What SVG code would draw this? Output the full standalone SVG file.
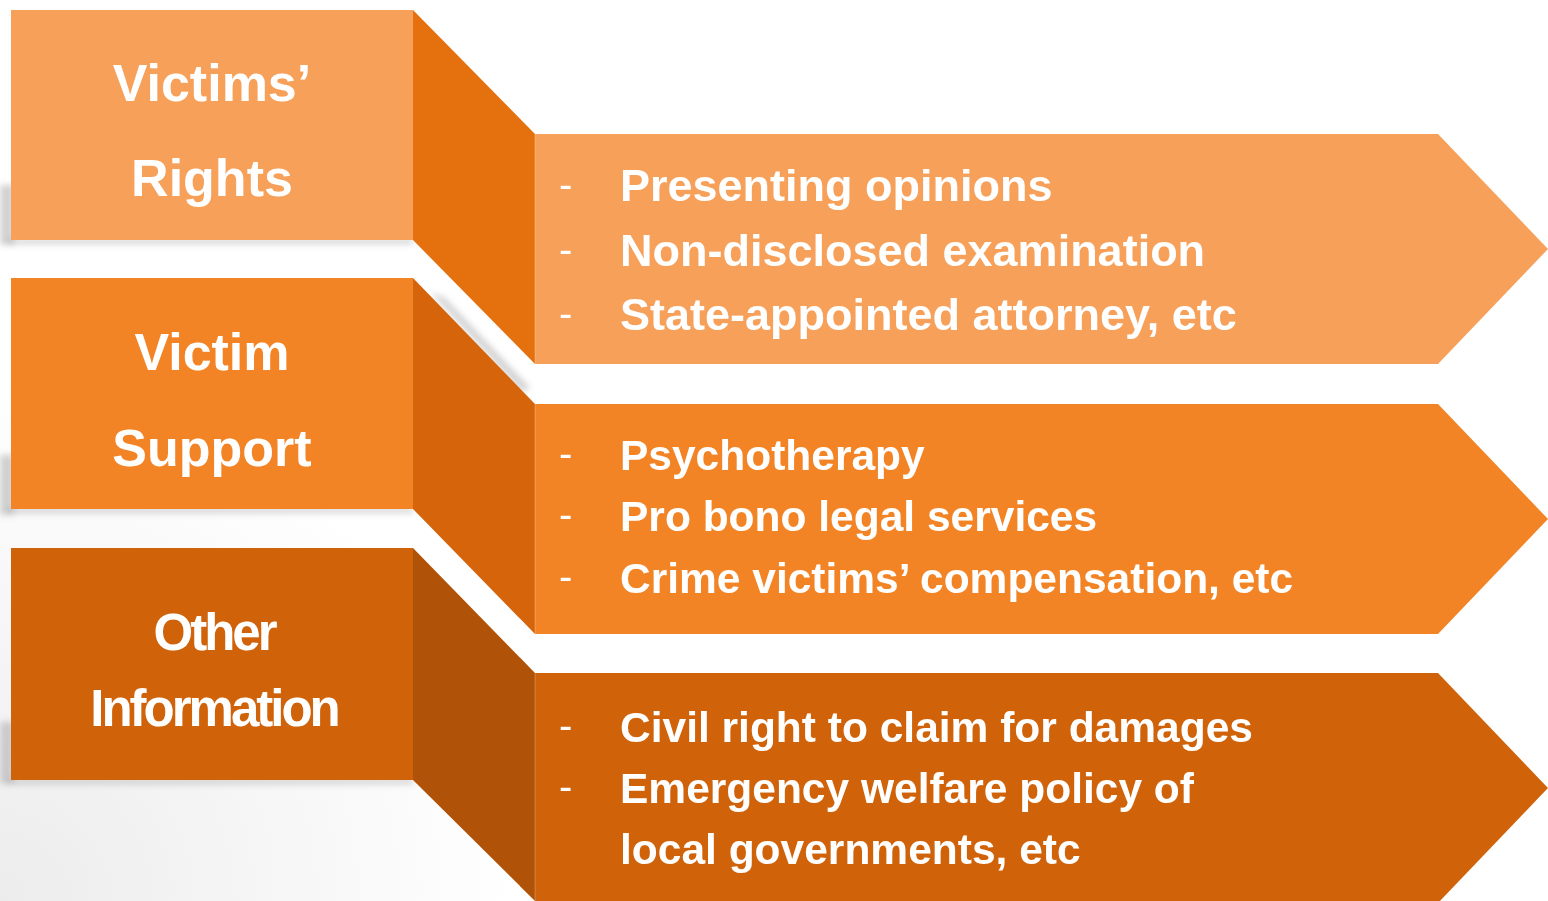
<svg xmlns="http://www.w3.org/2000/svg" width="1548" height="901" viewBox="0 0 1548 901">
<defs>
<style>
.lbl{font-family:"Liberation Sans",Arial,sans-serif;font-weight:bold;fill:#ffffff;text-anchor:middle;font-size:52px}
.oth{font-family:"Liberation Sans",Arial,sans-serif;font-weight:bold;fill:#ffffff;text-anchor:middle;font-size:51px;letter-spacing:-3px}
.item{font-family:"Liberation Sans",Arial,sans-serif;font-weight:bold;fill:#ffffff}
.dash{font-family:"Liberation Sans",Arial,sans-serif;font-weight:normal;fill:#ffffff;font-size:40px}
.c1{fill:#F6A05A}.f1{fill:#E4700E}
.c2{fill:#F38426}.f2{fill:#D5640A}
.c3{fill:#D0620A}.f3{fill:#B05207}
.sh{fill:#9a9a9a;opacity:0.45}
.edge{stroke:#ffffff;stroke-opacity:0.25;stroke-width:1}
</style>
<filter id="blur" x="-50%" y="-50%" width="200%" height="200%"><feGaussianBlur stdDeviation="3"/></filter>
<radialGradient id="bg" cx="0" cy="901" r="520" gradientUnits="userSpaceOnUse">
<stop offset="0" stop-color="#ececec"/>
<stop offset="1" stop-color="#ffffff"/>
</radialGradient>
</defs>
<rect x="0" y="0" width="1548" height="901" fill="url(#bg)"/>
<g id="shadows" filter="url(#blur)">
<rect class="sh" x="0" y="185" width="14" height="60"/>
<rect class="sh" x="8" y="239" width="405" height="5"/>
<rect class="sh" x="0" y="455" width="14" height="60"/>
<rect class="sh" x="8" y="508" width="405" height="5"/>
<rect class="sh" x="0" y="722" width="14" height="62"/>
<rect class="sh" x="8" y="779" width="405" height="5"/>
<polygon class="sh" points="430,292 445,298 530,388 522,392" opacity="0.6"/>
</g>
<g id="node-victims-rights">
<rect class="c1" x="11" y="10" width="402" height="230"/>
<polygon class="f1" points="413,10 535,134 535,364 413,240"/>
<polygon class="c1" points="535,134 1438,134 1548,249 1438,364 535,364"/>
<line class="edge" x1="535" y1="134" x2="535" y2="364"/>
<text class="lbl" x="212" y="101">Victims’</text>
<text class="lbl" x="212" y="196">Rights</text>
<g class="item" font-size="45">
<text x="620" y="201">Presenting opinions</text>
<text x="620" y="266">Non-disclosed examination</text>
<text x="620" y="330">State-appointed attorney, etc</text>
</g>
<text class="dash" x="559" y="198">-</text>
<text class="dash" x="559" y="263">-</text>
<text class="dash" x="559" y="327">-</text>
</g>
<g id="node-victim-support">
<rect class="c2" x="11" y="278" width="402" height="231"/>
<polygon class="f2" points="413,278 535,404 535,634 413,509"/>
<polygon class="c2" points="535,404 1438,404 1548,519 1438,634 535,634"/>
<line class="edge" x1="535" y1="404" x2="535" y2="634"/>
<text class="lbl" x="212" y="370">Victim</text>
<text class="lbl" x="212" y="466">Support</text>
<g class="item" font-size="42.5">
<text x="620" y="470">Psychotherapy</text>
<text x="620" y="531">Pro bono legal services</text>
<text x="620" y="593">Crime victims’ compensation, etc</text>
</g>
<text class="dash" x="559" y="467">-</text>
<text class="dash" x="559" y="528">-</text>
<text class="dash" x="559" y="590">-</text>
</g>
<g id="node-other-information">
<rect class="c3" x="11" y="548" width="402" height="232"/>
<polygon class="f3" points="413,548 535,673 535,901 413,780"/>
<polygon class="c3" points="535,673 1438,673 1548,788 1438,903 535,903"/>
<line class="edge" x1="535" y1="673" x2="535" y2="901"/>
<text class="oth" x="214" y="650">Other</text>
<text class="oth" x="214" y="726">Information</text>
<g class="item" font-size="42.5">
<text x="620" y="742">Civil right to claim for damages</text>
<text x="620" y="803">Emergency welfare policy of</text>
<text x="620" y="864">local governments, etc</text>
</g>
<text class="dash" x="559" y="739">-</text>
<text class="dash" x="559" y="800">-</text>
</g>
<g id="connectors"></g>
</svg>
